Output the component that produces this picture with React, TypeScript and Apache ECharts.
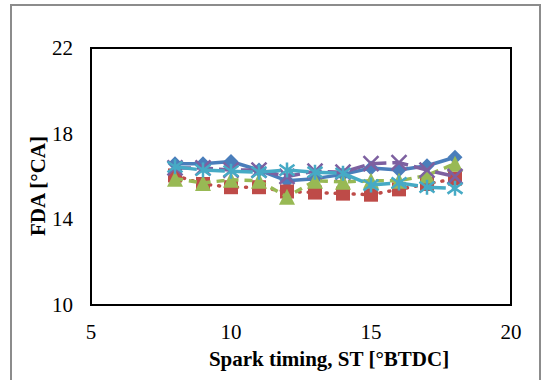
import React, { useEffect, useRef } from "react";
import * as echarts from "echarts";

const sparkTiming = [8, 9, 10, 11, 12, 13, 14, 15, 16, 17, 18];
const seriesBlue = [16.6, 16.6, 16.7, 16.3, 15.8, 15.9, 16.1, 16.4, 16.3, 16.5, 16.9];
const seriesRed = [16.05, 15.65, 15.5, 15.5, 15.3, 15.25, 15.2, 15.15, 15.4, 15.65, 15.9];
const seriesGreen = [15.9, 15.7, 15.85, 15.8, 15.05, 15.8, 15.75, 15.8, 15.8, 16.05, 16.6];
const seriesPurple = [16.4, 16.4, 16.3, 16.3, 16.0, 16.25, 16.2, 16.6, 16.65, 16.3, 16.0];
const seriesCyan = [16.45, 16.3, 16.25, 16.2, 16.3, 16.2, 16.15, 15.6, 15.7, 15.5, 15.45];
const xTicks = [5, 10, 15, 20];
const yTicks = [10, 14, 18, 22];

const FONT = "'Liberation Serif', 'Times New Roman', serif";

const X_PATH = "path://M0,0 L10,10 M10,0 L0,10";
const STAR_PATH = "path://M0,0 L10,10 M10,0 L0,10 M5,-2 L5,12";

function pairs(vals: number[]) {
  return sparkTiming.map((x, i) => [x, vals[i]]);
}

export default function App() {
  const ref = useRef<HTMLDivElement>(null);
  useEffect(() => {
    if (!ref.current) return;
    const chart = echarts.init(ref.current, undefined, { renderer: "svg" });
    chart.setOption({
      animation: false,
      backgroundColor: "#ffffff",
      grid: {
        left: 91,
        right: 31,
        top: 48,
        bottom: 75,
        show: true,
        borderColor: "#000",
        borderWidth: 2,
      },
      xAxis: {
        type: "value",
        min: xTicks[0],
        max: xTicks[xTicks.length - 1],
        interval: 5,
        axisLine: { show: true, lineStyle: { color: "#000", width: 2 } },
        axisTick: { show: false },
        splitLine: { show: false },
        axisLabel: { color: "#000", fontFamily: FONT, fontSize: 21, margin: 16 },
      },
      yAxis: {
        type: "value",
        min: yTicks[0],
        max: yTicks[yTicks.length - 1],
        interval: 4,
        axisLine: { show: true, lineStyle: { color: "#000", width: 2 } },
        axisTick: { show: false },
        splitLine: { show: false },
        axisLabel: { color: "#000", fontFamily: FONT, fontSize: 21, margin: 18 },
      },
      graphic: [
        {
          type: "rect",
          shape: { x: 11, y: 5, width: 529, height: 400 },
          style: { fill: "none", stroke: "#8c8c8c", lineWidth: 2 },
          silent: true,
        },
        {
          type: "text",
          x: 329,
          y: 359,
          style: {
            text: "Spark timing, ST [°BTDC]",
            font: `bold 21px ${FONT}`,
            fill: "#000",
            textAlign: "center",
            textVerticalAlign: "middle",
          },
        },
        {
          type: "text",
          x: 38,
          y: 186,
          rotation: Math.PI / 2,
          style: {
            text: "FDA [°CA]",
            font: `bold 21px ${FONT}`,
            fill: "#000",
            textAlign: "center",
            textVerticalAlign: "middle",
          },
        },
      ],
      series: [
        {
          name: "S1",
          type: "line",
          data: pairs(seriesBlue),
          symbol: "diamond",
          symbolSize: 15,
          lineStyle: { color: "#4a7ebb", width: 3.5 },
          itemStyle: { color: "#4a7ebb" },
          z: 2,
        },
        {
          name: "S2",
          type: "line",
          data: pairs(seriesRed),
          symbol: "rect",
          symbolSize: 14,
          lineStyle: { color: "#be4b48", width: 3.5, type: [1, 8], cap: "round" },
          itemStyle: { color: "#be4b48" },
          z: 3,
        },
        {
          name: "S3",
          type: "line",
          data: pairs(seriesGreen),
          symbol: "triangle",
          symbolSize: 16,
          lineStyle: { color: "#98b954", width: 3.5, type: [8, 6] },
          itemStyle: { color: "#98b954" },
          z: 4,
        },
        {
          name: "S4",
          type: "line",
          data: pairs(seriesPurple),
          symbol: X_PATH,
          symbolSize: 15,
          lineStyle: { color: "#7d60a0", width: 3.5, type: [16, 6] },
          itemStyle: { color: "#7d60a0", borderColor: "#7d60a0", borderWidth: 2.5 },
          z: 5,
        },
        {
          name: "S5",
          type: "line",
          data: pairs(seriesCyan),
          symbol: STAR_PATH,
          symbolSize: 15,
          lineStyle: { color: "#46aac5", width: 3.5, type: [22, 6] },
          itemStyle: { color: "#46aac5", borderColor: "#46aac5", borderWidth: 2.5 },
          z: 6,
        },
      ],
    });
    return () => chart.dispose();
  }, []);
  return (
    <div
      ref={ref}
      style={{ position: "fixed", left: 0, top: 0, width: 542, height: 380, background: "#fff" }}
    />
  );
}
